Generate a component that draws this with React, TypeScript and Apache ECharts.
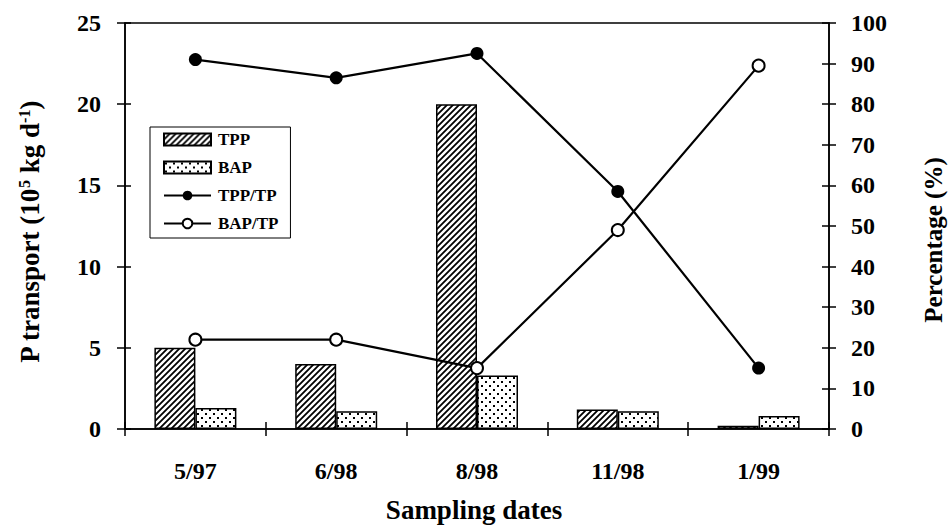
import React, { useEffect, useRef } from 'react';
import * as echarts from 'echarts';

const categories = ['5/97', '6/98', '8/98', '11/98', '1/99'];
const tppValues = [5.0, 4.0, 20.0, 1.2, 0.2];
const bapValues = [1.3, 1.1, 3.3, 1.1, 0.8];
const tppRatio = [91, 86.5, 92.5, 58.5, 15];
const bapRatio = [22, 22, 15, 49, 89.5];
const leftTicks = { min: 0, max: 25, interval: 5 };
const rightTicks = { min: 0, max: 100, interval: 10 };

const FONT = '"Liberation Serif", "Times New Roman", serif';

function makeHatch(): HTMLCanvasElement {
  const s = 6;
  const c = document.createElement('canvas');
  c.width = s;
  c.height = s;
  const ctx = c.getContext('2d')!;
  ctx.fillStyle = '#fff';
  ctx.fillRect(0, 0, s, s);
  ctx.strokeStyle = '#000';
  ctx.lineWidth = 1.8;
  ctx.beginPath();
  ctx.moveTo(-1, s + 1);
  ctx.lineTo(s + 1, -1);
  ctx.moveTo(-1, 1);
  ctx.lineTo(1, -1);
  ctx.moveTo(s - 1, s + 1);
  ctx.lineTo(s + 1, s - 1);
  ctx.stroke();
  return c;
}

function makeDots(): HTMLCanvasElement {
  const s = 8;
  const c = document.createElement('canvas');
  c.width = s;
  c.height = s;
  const ctx = c.getContext('2d')!;
  ctx.fillStyle = '#fff';
  ctx.fillRect(0, 0, s, s);
  ctx.fillStyle = '#000';
  ctx.fillRect(1, 1, 2, 2);
  ctx.fillRect(5, 5, 2, 2);
  return c;
}

export default function App() {
  const ref = useRef<HTMLDivElement>(null);
  useEffect(() => {
    if (!ref.current) return;
    const chart = echarts.init(ref.current, null, { renderer: 'svg' });
    const hatch = makeHatch();
    const dots = makeDots();
    const labelStyle = { fontFamily: FONT, fontWeight: 'bold' as const, fontSize: 24, color: '#000' };
    const lineStyle = { color: '#000', width: 1.5 };
    chart.setOption({
      animation: false,
      backgroundColor: '#fff',
      grid: {
        left: 125,
        right: 120,
        top: 23,
        bottom: 98,
        show: true,
        borderColor: '#000',
        borderWidth: 1.5,
        backgroundColor: 'transparent',
      },
      legend: {
        orient: 'vertical',
        left: 150,
        top: 127,
        padding: [4, 12, 6, 13],
        itemGap: 11,
        itemWidth: 47,
        itemHeight: 12,
        borderColor: '#000',
        borderWidth: 1,
        backgroundColor: '#fff',
        textStyle: { fontFamily: FONT, fontWeight: 'bold', fontSize: 17, color: '#000', padding: [0, 0, 0, 2] },
        data: [
          { name: 'TPP', icon: 'rect' },
          { name: 'BAP', icon: 'rect' },
          { name: 'TPP/TP' },
          { name: 'BAP/TP' },
        ],
      },
      xAxis: [
        {
          type: 'category',
          data: categories,
          position: 'bottom',
          axisLine: { lineStyle },
          axisTick: { show: true, length: 7, lineStyle },
          axisLabel: { ...labelStyle, margin: 30 },
          splitLine: { show: false },
        },
        {
          type: 'category',
          data: categories,
          position: 'bottom',
          axisLine: { show: false },
          axisTick: { show: true, inside: true, length: 7, lineStyle },
          axisLabel: { show: false },
          splitLine: { show: false },
        },
      ],
      yAxis: [
        {
          type: 'value',
          position: 'left',
          ...leftTicks,
          axisLine: { show: true, lineStyle },
          axisTick: { show: true, length: 8, lineStyle },
          axisLabel: { ...labelStyle, margin: 24 },
          splitLine: { show: false },
        },
        {
          type: 'value',
          position: 'right',
          ...rightTicks,
          axisLine: { show: true, lineStyle },
          axisTick: { show: true, length: 7, lineStyle },
          axisLabel: { ...labelStyle, margin: 22 },
          splitLine: { show: false },
        },
        {
          type: 'value',
          position: 'left',
          ...leftTicks,
          axisLine: { show: false },
          axisTick: { show: true, inside: true, length: 6, lineStyle },
          axisLabel: { show: false },
          splitLine: { show: false },
        },
        {
          type: 'value',
          position: 'right',
          ...rightTicks,
          axisLine: { show: false },
          axisTick: { show: true, inside: true, length: 7, lineStyle },
          axisLabel: { show: false },
          splitLine: { show: false },
        },
      ],
      series: [
        {
          name: 'TPP',
          type: 'bar',
          yAxisIndex: 0,
          data: tppValues,
          barWidth: 41,
          barGap: '0%',
          itemStyle: {
            color: { image: hatch, repeat: 'repeat', imageWidth: 6, imageHeight: 6 } as any,
            borderColor: '#000',
            borderWidth: 1.5,
          },
          z: 2,
        },
        {
          name: 'BAP',
          type: 'bar',
          yAxisIndex: 0,
          data: bapValues,
          barWidth: 41,
          barGap: '0%',
          itemStyle: {
            color: { image: dots, repeat: 'repeat', imageWidth: 8, imageHeight: 8 } as any,
            borderColor: '#000',
            borderWidth: 1.5,
          },
          z: 2,
        },
        {
          name: 'TPP/TP',
          type: 'line',
          yAxisIndex: 1,
          data: tppRatio,
          symbol: 'circle',
          symbolSize: 13,
          itemStyle: { color: '#000' },
          lineStyle: { color: '#000', width: 2.2 },
          z: 5,
        },
        {
          name: 'BAP/TP',
          type: 'line',
          yAxisIndex: 1,
          data: bapRatio,
          symbol: 'circle',
          symbolSize: 12,
          showAllSymbol: true,
          itemStyle: { color: '#fff', borderColor: '#000', borderWidth: 2 },
          lineStyle: { color: '#000', width: 2.2 },
          z: 5,
        },
      ],
      graphic: [
        {
          type: 'text',
          x: 30,
          y: 232,
          rotation: Math.PI / 2,
          style: {
            text: '{a|P transport (10}{s|5}{a| kg d}{s|-1}{a|)}',
            rich: {
              a: { fontFamily: FONT, fontWeight: 'bold', fontSize: 27, fill: '#000' },
              s: { fontFamily: FONT, fontWeight: 'bold', fontSize: 16, fill: '#000', verticalAlign: 'top' },
            },
            align: 'center',
            verticalAlign: 'middle',
          },
        },
        {
          type: 'text',
          x: 933,
          y: 240,
          rotation: Math.PI / 2,
          style: {
            text: 'Percentage (%)',
            fontFamily: FONT,
            fontWeight: 'bold',
            fontSize: 25,
            fill: '#000',
            align: 'center',
            verticalAlign: 'middle',
          },
        },
        {
          type: 'text',
          x: 474,
          y: 510,
          style: {
            text: 'Sampling dates',
            fontFamily: FONT,
            fontWeight: 'bold',
            fontSize: 27,
            fill: '#000',
            align: 'center',
            verticalAlign: 'middle',
          },
        },
      ],
    });
    return () => chart.dispose();
  }, []);
  return (
    <div
      ref={ref}
      style={{ position: 'fixed', left: 0, top: 0, width: 949, height: 527, background: '#fff' }}
    />
  );
}
